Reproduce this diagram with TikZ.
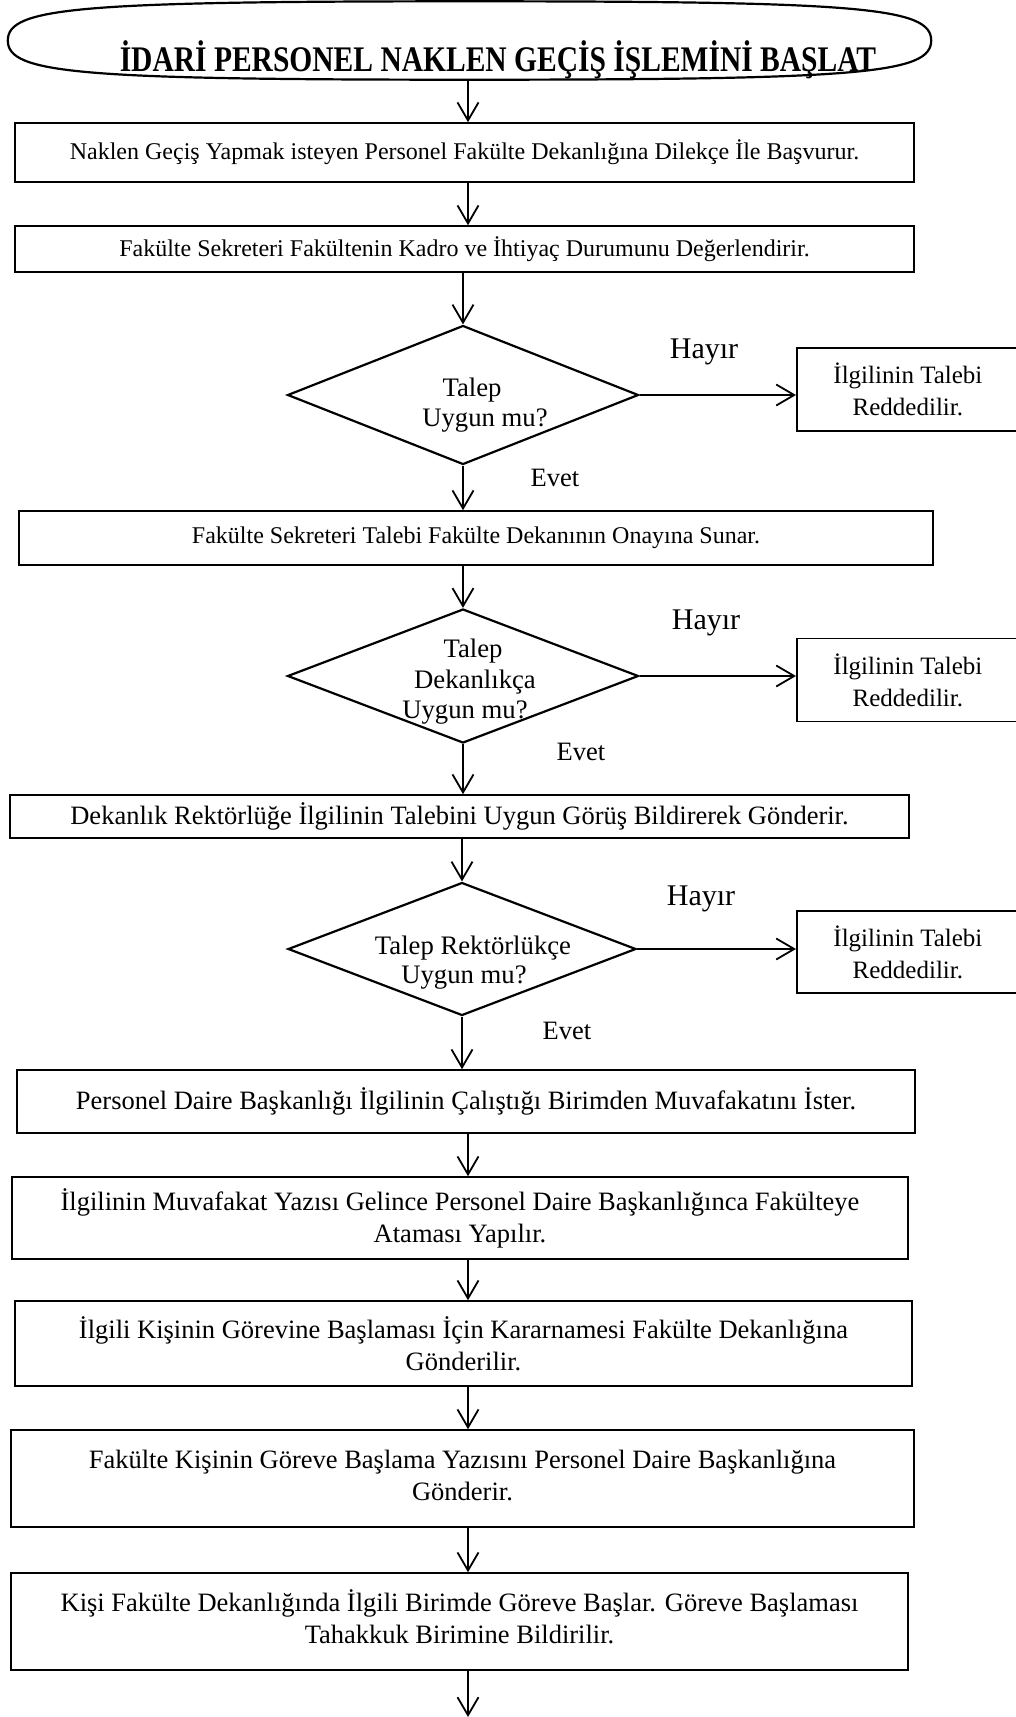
\documentclass[tikz,border=0pt]{standalone}
\usepackage{fontspec}
\setmainfont{Liberation Serif}
\newfontfamily\titlefont{Liberation Serif}[FakeStretch=0.82]
\usetikzlibrary{shapes.geometric, arrows.meta}

% centred lines set as one block, raised by #1
\newcommand{\liftlines}[2]{\raisebox{#1}{\begin{tabular}{@{}c@{}}#2\end{tabular}}}

\begin{document}
\begin{tikzpicture}[x=1pt, y=-1pt,
  startshape/.style={ellipse, inner sep=0pt, minimum width=923pt, minimum height=78pt},
  outline/.style={line width=2.2pt},
  titletext/.style={inner sep=0pt, anchor=base, font=\titlefont\bfseries\fontsize{36}{40}\selectfont},
  box/.style={draw, rectangle, line width=1.6pt, inner sep=0pt, align=center},
  smalltext/.style={font=\fontsize{24}{32}\selectfont},
  bigtext/.style={font=\fontsize{26.5}{32}\selectfont},
  decision/.style={draw, diamond, aspect=2.6, line width=2.2pt, inner sep=0pt},
  dtext/.style={inner sep=0pt, anchor=base, font=\fontsize{26.7}{30}\selectfont},
  reject/.style={draw, rectangle, line width=1.8pt, inner sep=0pt, align=center,
    anchor=west, minimum width=222pt, font=\fontsize{25}{32}\selectfont},
  hayir/.style={inner sep=0pt, font=\fontsize{30}{32}\selectfont},
  evet/.style={inner sep=0pt, font=\fontsize{26.5}{30}\selectfont},
  arr/.style={line width=1.8pt, -{Straight Barb[length=18pt, width=21pt, line width=1.8pt]}}
]
\useasboundingbox (0,0) rectangle (1016,1717);
\clip (0,0) rectangle (1016,1717);

% column for the vertical connectors
\coordinate (cA) at (468,0);

% start terminal: a full, rounded oval
\node[startshape] (start) at (469.5,40.5) {};
\draw[outline] (start.west) .. controls +(0,33) and +(-392,0) .. (start.south)
  .. controls +(392,0) and +(0,33) .. (start.east)
  .. controls +(0,-33) and +(392,0) .. (start.north)
  .. controls +(-392,0) and +(0,-33) .. (start.west) -- cycle;
\node[titletext] (title) at (498,71) {İDARİ PERSONEL NAKLEN GEÇİŞ İŞLEMİNİ BAŞLAT};

% first steps
\node[box, smalltext, minimum width=899pt, minimum height=59pt] (b1) at (464.5,152.5)
  {Naklen Geçiş Yapmak isteyen Personel Fakülte Dekanlığına Dilekçe İle Başvurur.};
\node[box, smalltext, minimum width=899pt, minimum height=46pt] (b2) at (464.5,249)
  {Fakülte Sekreteri Fakültenin Kadro ve İhtiyaç Durumunu Değerlendirir.};

% decision 1
\node[decision, minimum width=351pt, minimum height=139pt] (d1) at (463,395) {};
\node[dtext] (d1a) at (472,396) {Talep};
\node[dtext] (d1b) at (485,426) {Uygun mu?};
\node[reject, minimum height=83pt] (r1) at (796,389.5) {İlgilinin Talebi\\Reddedilir.};
\node[hayir] (h1) at (704,352) {Hayır};
\node[evet] (e1) at (555,478) {Evet};

\node[box, smalltext, minimum width=914pt, minimum height=54pt] (b3) at (476,538)
  {Fakülte Sekreteri Talebi Fakülte Dekanının Onayına Sunar.};

% decision 2
\node[decision, minimum width=351pt, minimum height=134pt] (d2) at (463,676) {};
\node[dtext] (d2a) at (473,657) {Talep};
\node[dtext] (d2b) at (475,688) {Dekanlıkça};
\node[dtext] (d2c) at (465,718) {Uygun mu?};
\node[reject, minimum height=83pt] (r2) at (796,680) {İlgilinin Talebi\\Reddedilir.};
\node[hayir] (h2) at (706,623) {Hayır};
\node[evet] (e2) at (581,752) {Evet};

\node[box, bigtext, minimum width=899pt, minimum height=43pt] (b4) at (459.5,816.5)
  {Dekanlık Rektörlüğe İlgilinin Talebini Uygun Görüş Bildirerek Gönderir.};

% decision 3
\node[decision, minimum width=348pt, minimum height=133pt] (d3) at (462,949) {};
\node[dtext] (d3a) at (473,954) {Talep Rektörlükçe};
\node[dtext] (d3b) at (464,983) {Uygun mu?};
\node[reject, minimum height=82pt] (r3) at (796,952) {İlgilinin Talebi\\Reddedilir.};
\node[hayir] (h3) at (701,899) {Hayır};
\node[evet] (e3) at (567,1031) {Evet};

% remaining steps
\node[box, bigtext, minimum width=898pt, minimum height=63pt] (b5) at (466,1101.5)
  {Personel Daire Başkanlığı İlgilinin Çalıştığı Birimden Muvafakatını İster.};
\node[box, bigtext, minimum width=896pt, minimum height=82pt] (b6) at (460,1218)
  {İlgilinin Muvafakat Yazısı Gelince Personel Daire Başkanlığınca Fakülteye\\Ataması Yapılır.};
\node[box, bigtext, minimum width=897pt, minimum height=85pt] (b7) at (463.5,1343.5)
  {İlgili Kişinin Görevine Başlaması İçin Kararnamesi Fakülte Dekanlığına\\Gönderilir.};
\node[box, bigtext, minimum width=903pt, minimum height=97pt] (b8) at (462.5,1478.5)
  {\liftlines{0pt}{Fakülte Kişinin Göreve Başlama Yazısını Personel Daire Başkanlığına\\Gönderir.}};
\node[box, bigtext, minimum width=897pt, minimum height=97pt] (b9) at (459.5,1621.5)
  {\liftlines{6pt}{Kişi Fakülte Dekanlığında İlgili Birimde Göreve Başlar. Göreve Başlaması\\Tahakkuk Birimine Bildirilir.}};
\coordinate (end) at (468,1717);

% connectors
\draw[arr] (start.south -| cA) -- (b1.north -| cA);
\draw[arr] (b1.south -| cA) -- (b2.north -| cA);
\draw[arr] (b2.south -| d1.north) -- (d1.north);
\draw[arr] (d1.east) -- (d1.east -| r1.west);
\draw[arr] (d1.south) -- (b3.north -| d1.south);
\draw[arr] (b3.south -| d2.north) -- (d2.north);
\draw[arr] (d2.east) -- (d2.east -| r2.west);
\draw[arr] (d2.south) -- (b4.north -| d2.south);
\draw[arr] (b4.south -| d3.north) -- (d3.north);
\draw[arr] (d3.east) -- (d3.east -| r3.west);
\draw[arr] (d3.south) -- (b5.north -| d3.south);
\draw[arr] (b5.south -| cA) -- (b6.north -| cA);
\draw[arr] (b6.south -| cA) -- (b7.north -| cA);
\draw[arr] (b7.south -| cA) -- (b8.north -| cA);
\draw[arr] (b8.south -| cA) -- (b9.north -| cA);
\draw[arr] (b9.south -| cA) -- (end);
\end{tikzpicture}
\end{document}
